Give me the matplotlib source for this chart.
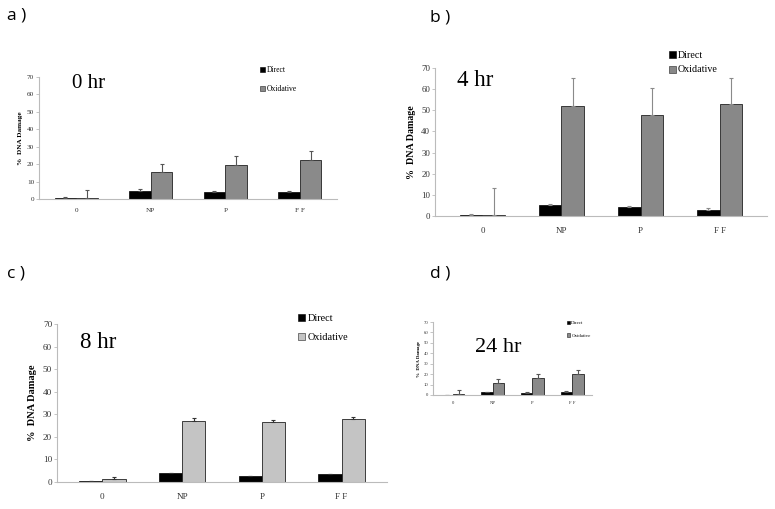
import matplotlib.pyplot as plt
import numpy as np
from matplotlib.patches import Patch

plt.rcParams['font.family'] = ['Liberation Serif', 'DejaVu Serif']

categories = ["0", "NP", "P", "F F"]
yticks = [0, 10, 20, 30, 40, 50, 60, 70]

# a) 0 hr
direct_0 = [0.3, 4.7, 3.8, 4.0]
direct_0_err = [0.9, 1.0, 0.8, 0.8]
oxid_0 = [0.8, 15.5, 19.5, 22.5]
oxid_0_err = [4.5, 4.8, 5.0, 5.0]

# b) 4 hr
direct_4 = [0.3, 5.0, 4.2, 3.0]
direct_4_err = [0.7, 0.8, 0.6, 0.9]
oxid_4 = [0.6, 52.2, 48.0, 52.8]
oxid_4_err = [12.5, 13.0, 12.5, 12.5]

# c) 8 hr
direct_8 = [0.3, 4.2, 2.6, 3.5]
direct_8_err = [0.0, 0.0, 0.0, 0.0]
oxid_8 = [1.3, 27.2, 26.7, 28.0]
oxid_8_err = [1.0, 1.0, 0.8, 1.0]

# d) 24 hr
direct_24 = [0.1, 2.6, 2.2, 3.3]
direct_24_err = [0.0, 0.3, 0.2, 0.3]
oxid_24 = [0.7, 11.5, 16.3, 19.8]
oxid_24_err = [4.0, 4.0, 3.7, 4.0]

W, H = 775, 509
fig = plt.figure(figsize=(W / 100, H / 100), dpi=100)


def px_axes(left, top, right, bottom):
    return fig.add_axes([left / W, 1 - bottom / H, (right - left) / W, (bottom - top) / H])


# layout: pixel box, xlim, font sizes, colours
panels = [
    dict(label="a )", lab_xy=(7, 15), box=(39, 77, 337, 199), xlim=(-0.5, 3.5),
         direct=direct_0, derr=direct_0_err, oxid=oxid_0, oerr=oxid_0_err,
         title="0 hr", title_xy=(72, 83), tfs=15, tick_fs=5.2, ylab_fs=5.2,
         leg_xy=(260, 66), leg_fs=5.5, leg_sp=1.5, ocolor="#8a8a8a", ecolor="#555555"),
    dict(label="b )", lab_xy=(430, 17), box=(435, 68, 767, 216), xlim=(-0.6, 3.6),
         direct=direct_4, derr=direct_4_err, oxid=oxid_4, oerr=oxid_4_err,
         title="4 hr", title_xy=(457, 80), tfs=16.5, tick_fs=6.4, ylab_fs=7.2,
         leg_xy=(669, 51), leg_fs=7.2, leg_sp=0.55, ocolor="#888888", ecolor="#8a8a8a"),
    dict(label="c )", lab_xy=(7, 274), box=(57, 324, 387, 482), xlim=(-0.57, 3.57),
         direct=direct_8, derr=direct_8_err, oxid=oxid_8, oerr=oxid_8_err,
         title="8 hr", title_xy=(80, 343), tfs=16.5, tick_fs=6.6, ylab_fs=7.5,
         leg_xy=(298, 314), leg_fs=7.4, leg_sp=0.95, ocolor="#c4c4c4", ecolor="#333333"),
    dict(label="d )", lab_xy=(430, 273), box=(433, 322, 592, 395), xlim=(-0.5, 3.5),
         direct=direct_24, derr=direct_24_err, oxid=oxid_24, oerr=oxid_24_err,
         title="24 hr", title_xy=(475, 348), tfs=16, tick_fs=3.4, ylab_fs=3.5,
         leg_xy=(567, 321), leg_fs=3.5, leg_sp=1.6, ocolor="#8a8a8a", ecolor="#555555"),
]

x = np.arange(len(categories))
bw = 0.29

for p in panels:
    ax = px_axes(*p["box"])
    ax.bar(x - bw / 2, p["direct"], bw, color="black", edgecolor="black", linewidth=0.5)
    ax.bar(x + bw / 2, p["oxid"], bw, color=p["ocolor"], edgecolor="#222222", linewidth=0.6)
    zeros = [0] * len(categories)
    ax.errorbar(x - bw / 2, p["direct"], yerr=[zeros, p["derr"]], fmt="none",
                ecolor=p["ecolor"], elinewidth=0.8, capsize=1.5, capthick=0.8)
    ax.errorbar(x + bw / 2, p["oxid"], yerr=[zeros, p["oerr"]], fmt="none",
                ecolor=p["ecolor"], elinewidth=0.8, capsize=1.5, capthick=0.8)

    ax.set_xlim(*p["xlim"])
    ax.set_ylim(0, 70)
    ax.set_yticks(yticks)
    ax.set_xticks(x)
    ax.set_xticklabels(categories)
    ax.tick_params(axis="x", length=0, labelsize=p["tick_fs"], colors="#333333", pad=p["tick_fs"] * 1.2)
    ax.tick_params(axis="y", length=2, width=0.6, color="#bbbbbb", labelsize=p["tick_fs"], pad=1.5)
    ax.tick_params(axis="y", labelcolor="#333333")
    for s in ["top", "right"]:
        ax.spines[s].set_visible(False)
    for s in ["left", "bottom"]:
        ax.spines[s].set_color("#bbbbbb")
        ax.spines[s].set_linewidth(0.8)
    ax.set_ylabel("%  DNA Damage", fontsize=p["ylab_fs"], fontweight="bold", labelpad=p["tick_fs"] * 0.6)

    fig.text(p["title_xy"][0] / W, 1 - p["title_xy"][1] / H, p["title"], fontsize=p["tfs"],
             ha="left", va="center")
    fig.text(p["lab_xy"][0] / W, 1 - p["lab_xy"][1] / H, p["label"], fontsize=12.5,
             family="Open Sans", ha="left", va="center")

    handles = [Patch(facecolor="black", edgecolor="black", linewidth=0.4),
               Patch(facecolor=p["ocolor"], edgecolor="#222222", linewidth=0.4)]
    fig.legend(handles, ["Direct", "Oxidative"], loc="upper left",
               bbox_to_anchor=(p["leg_xy"][0] / W, 1 - p["leg_xy"][1] / H),
               frameon=False, fontsize=p["leg_fs"], handlelength=0.7, handleheight=0.7,
               handletextpad=0.2, labelspacing=p["leg_sp"], borderpad=0, borderaxespad=0)

fig.savefig("out.png", dpi=100)
